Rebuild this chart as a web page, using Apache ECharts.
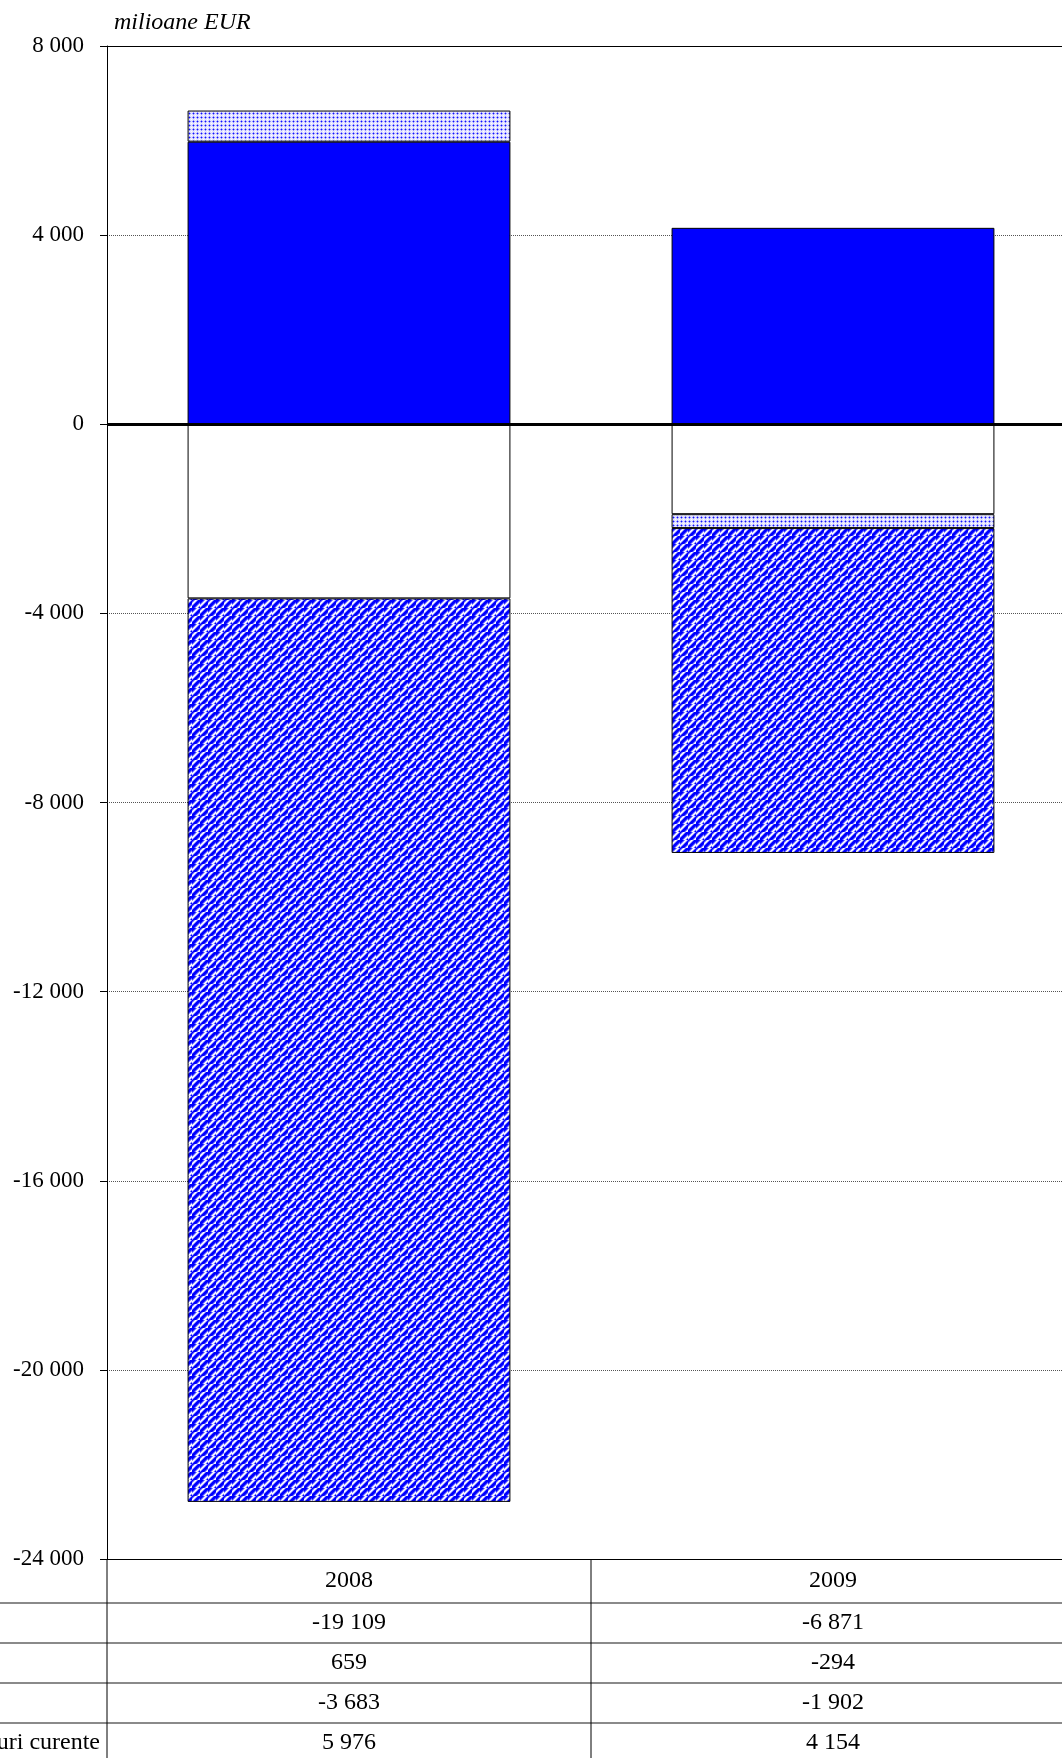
<!DOCTYPE html>
<html>
<head>
<meta charset="utf-8">
<script src="https://cdn.jsdelivr.net/npm/echarts@6/dist/echarts.min.js"></script>
<style>
html,body{margin:0;padding:0;background:#fff;overflow:hidden;width:1062px;height:1758px;}
#chart{width:1090px;height:1758px;}
</style>
</head>
<body>
<div id="chart"></div>
<script>
const categories = ['2008', '2009'];
const rowLabels = ['Bunuri', 'Servicii', 'Venituri', 'Transferuri curente'];
const bunuri = [-19109, -6871];
const servicii = [659, -294];
const venituri = [-3683, -1902];
const transferuri = [5976, 4154];
const unitLabel = 'milioane EUR';

const FONT = '"Liberation Serif", "Times New Roman", serif';

function fmt(v) {
  const s = String(Math.abs(v)).replace(/\B(?=(\d{3})+(?!\d))/g, ' ');
  return (v < 0 ? '-' : '') + s;
}

function makeDiag() {
  const c = document.createElement('canvas');
  const blk = 8, n = 16;
  c.width = n; c.height = n;
  const g = c.getContext('2d');
  const shades = ['#0000ff', '#0000ff', '#0000ff', '#3a3aff', '#9a9aff', '#ffffff', '#e0e0ff', '#6a6aff'];
  for (let x = 0; x < n; x++) {
    for (let y = 0; y < n; y++) {
      const bx = Math.floor(x / blk), by = Math.floor(y / blk);
      const off = ((bx + by) % 2) * 2;
      const d = (x + y + off) % blk;
      g.fillStyle = shades[d];
      g.fillRect(x, y, 1, 1);
    }
  }
  return c;
}
function makeDots() {
  const c = document.createElement('canvas');
  c.width = 4; c.height = 4;
  const g = c.getContext('2d');
  g.fillStyle = '#e4e4ff';
  g.fillRect(0, 0, 4, 4);
  g.fillStyle = '#9090ff';
  [[0,1],[2,1],[1,0],[1,2]].forEach(p => g.fillRect(p[0], p[1], 1, 1));
  g.fillStyle = '#1010ff';
  g.fillRect(1, 1, 1, 1);
  g.fillStyle = '#ffffff';
  g.fillRect(3, 3, 1, 1);
  return c;
}

const chart = echarts.init(document.getElementById('chart'), null, {renderer: 'canvas'});

const border = {borderColor: '#000', borderWidth: 1};

const option = {
  animation: false,
  backgroundColor: '#fff',
  textStyle: {fontFamily: FONT},
  grid: {left: 107, top: 46, width: 968, height: 1513, containLabel: false},
  xAxis: [{
    type: 'category',
    data: categories,
    position: 'bottom',
    axisLine: {onZero: false, lineStyle: {color: '#000', width: 1}},
    axisTick: {show: false},
    axisLabel: {show: true, fontFamily: FONT, fontSize: 24, color: '#000', margin: 10}
  }, {
    type: 'category',
    data: categories,
    position: 'top',
    axisLine: {onZero: false, lineStyle: {color: '#000', width: 1}},
    axisTick: {show: false},
    axisLabel: {show: false}
  }],
  yAxis: {
    type: 'value',
    min: -24000,
    max: 8000,
    interval: 4000,
    axisLine: {show: true, lineStyle: {color: '#000', width: 1}},
    axisTick: {show: true, length: 7, lineStyle: {color: '#000'}},
    axisLabel: {fontFamily: FONT, fontSize: 23, color: '#000', margin: 23, formatter: v => fmt(v)},
    splitLine: {show: true, lineStyle: {color: '#555', type: 'dotted', width: 1}}
  },
  series: [{
    name: rowLabels[3], type: 'bar', stack: 'a', data: transferuri,
    barWidth: '66.7%',
    itemStyle: Object.assign({color: '#0000ff'}, border),
    markLine: {
      silent: true, symbol: 'none', label: {show: false},
      lineStyle: {color: '#000', width: 3, type: 'solid'},
      data: [{yAxis: 0}]
    },
    z: 2
  }, {
    name: rowLabels[2], type: 'bar', stack: 'a', data: venituri,
    barWidth: '66.7%',
    itemStyle: Object.assign({color: '#ffffff'}, border)
  }, {
    name: rowLabels[1], type: 'bar', stack: 'a', data: servicii,
    barWidth: '66.7%',
    itemStyle: Object.assign({color: {image: makeDots(), repeat: 'repeat'}}, border)
  }, {
    name: rowLabels[0], type: 'bar', stack: 'a', data: bunuri,
    barWidth: '66.7%',
    itemStyle: Object.assign({color: {image: makeDiag(), repeat: 'repeat'}}, border)
  }]
};
chart.setOption(option);

// Data table under the chart, placed from the axes' own scales
const yTable = chart.convertToPixel({yAxisIndex: 0}, -24000);
const c0 = chart.convertToPixel({xAxisIndex: 0}, categories[0]);
const c1 = chart.convertToPixel({xAxisIndex: 0}, categories[1]);
const band = c1 - c0;
const xLeft = c0 - band / 2;
const xMid = c0 + band / 2;
const xRight = c1 + band / 2;
const headerH = 44, rowH = 40;
const tableRows = [bunuri, servicii, venituri, transferuri];

const mc = document.createElement('canvas').getContext('2d');
mc.font = '24px ' + FONT;
const labelStart = xLeft - 7 - mc.measureText(rowLabels[3]).width;

const graphics = [];
graphics.push({
  type: 'text', left: 114, top: 11, z: 10,
  style: {text: unitLabel, font: 'italic 24px ' + FONT, fill: '#000'}
});
graphics.push({type: 'line', z: 10, shape: {x1: xLeft, y1: yTable, x2: xLeft, y2: 1758}, style: {stroke: '#000', lineWidth: 1}});
graphics.push({type: 'line', z: 10, shape: {x1: xMid, y1: yTable, x2: xMid, y2: 1758}, style: {stroke: '#000', lineWidth: 1}});
graphics.push({type: 'line', z: 10, shape: {x1: xRight, y1: yTable, x2: xRight, y2: 1758}, style: {stroke: '#000', lineWidth: 1}});
for (let r = 0; r < tableRows.length; r++) {
  const yl = yTable + headerH + r * rowH;
  graphics.push({type: 'line', z: 9, shape: {x1: 0, y1: yl, x2: 1090, y2: yl}, style: {stroke: '#8a8a8a', lineWidth: 2}});
  const yc = yl + rowH / 2;
  graphics.push({
    type: 'text', z: 10, x: labelStart, y: yc,
    style: {text: rowLabels[r], font: '24px ' + FONT, fill: '#000', textAlign: 'left', textVerticalAlign: 'middle'}
  });
  tableRows[r].forEach((v, i) => {
    const cx = chart.convertToPixel({xAxisIndex: 0}, categories[i]);
    graphics.push({
      type: 'text', z: 10, x: cx, y: yc,
      style: {text: fmt(v), font: '24px ' + FONT, fill: '#000', textAlign: 'center', textVerticalAlign: 'middle'}
    });
  });
}
chart.setOption({graphic: graphics});
</script>
</body>
</html>
